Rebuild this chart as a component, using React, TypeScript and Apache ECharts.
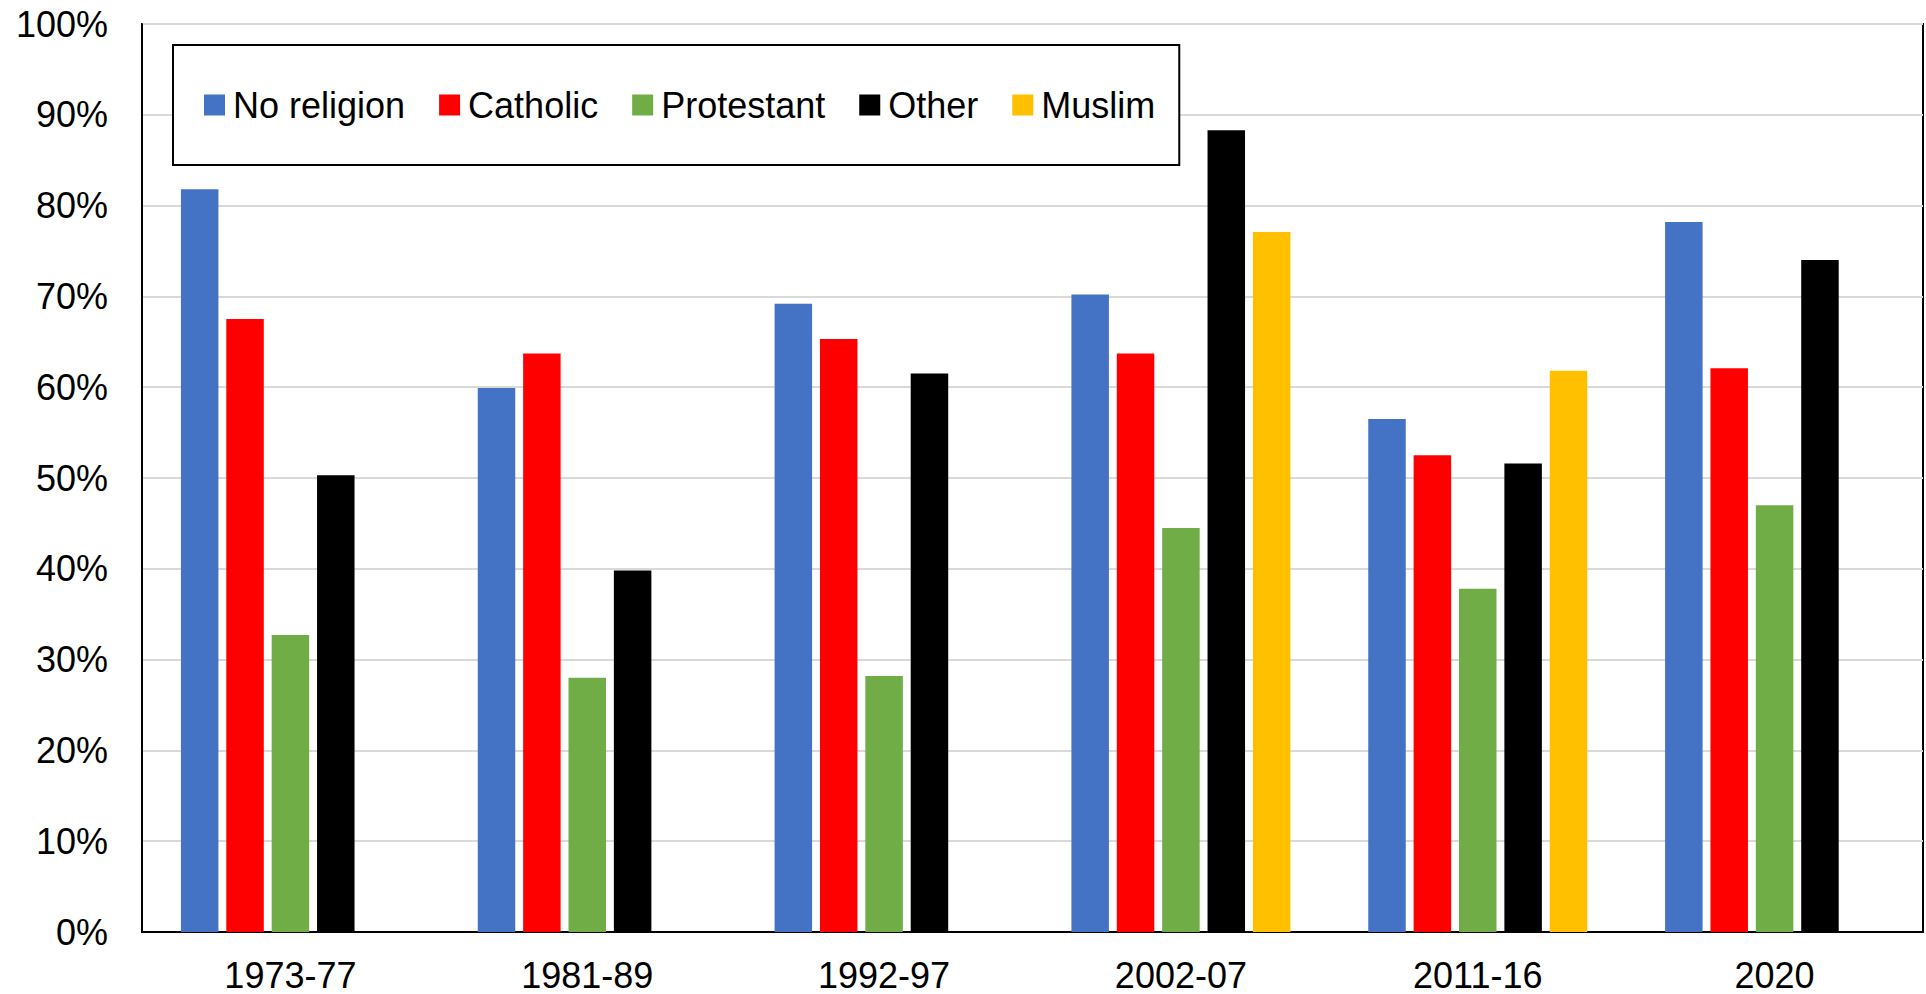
import React, { useEffect, useRef } from "react";
import * as echarts from "echarts";

const categories = ["1973-77", "1981-89", "1992-97", "2002-07", "2011-16", "2020"];
const noReligion = [81.8, 59.9, 69.2, 70.2, 56.5, 78.2];
const catholic = [67.5, 63.7, 65.3, 63.7, 52.5, 62.1];
const protestant = [32.7, 28.0, 28.2, 44.5, 37.8, 47.0];
const other = [50.3, 39.8, 61.5, 88.3, 51.6, 74.0];
const muslim = [null, null, null, 77.1, 61.8, null];

const seriesNames = ["No religion", "Catholic", "Protestant", "Other", "Muslim"];
const seriesColors = ["#4472C4", "#FF0000", "#70AD47", "#000000", "#FFC000"];
const seriesData = [noReligion, catholic, protestant, other, muslim];

const FONT = "Liberation Sans, Arial, sans-serif";

export default function App() {
  const ref = useRef<HTMLDivElement>(null);
  useEffect(() => {
    if (!ref.current) return;
    const chart = echarts.init(ref.current, undefined, { renderer: "svg" });
    chart.setOption({
      animation: false,
      backgroundColor: "#ffffff",
      textStyle: { fontFamily: FONT },
      grid: {
        left: 142,
        top: 24,
        right: 3,
        bottom: 62,
        show: true,
        borderColor: "#000000",
        borderWidth: 2,
        containLabel: false,
      },
      legend: {
        left: 173,
        top: 45,
        padding: [42, 24, 42, 31],
        borderColor: "#000000",
        borderWidth: 2,
        backgroundColor: "#ffffff",
        itemWidth: 21,
        itemHeight: 21,
        itemGap: 34,
        icon: "rect",
        textStyle: { fontSize: 36, color: "#000000", fontFamily: FONT, padding: [0, 0, 0, 3] },
        data: seriesNames,
      },
      xAxis: {
        type: "category",
        data: categories,
        axisLine: { show: true, lineStyle: { color: "#000000", width: 2 } },
        axisTick: { show: false },
        axisLabel: { fontSize: 36, color: "#000000", margin: 25, fontFamily: FONT },
      },
      yAxis: {
        type: "value",
        min: 0,
        max: 100,
        interval: 10,
        axisLine: { show: true, lineStyle: { color: "#000000", width: 2 } },
        axisTick: { show: false },
        axisLabel: { fontSize: 36, color: "#000000", margin: 34, formatter: "{value}%", fontFamily: FONT },
        splitLine: { show: true, lineStyle: { color: "#D9D9D9", width: 2 } },
      },
      series: seriesNames.map((name, i) => ({
        name,
        type: "bar",
        data: seriesData[i],
        barWidth: 37.5,
        barGap: "21%",
        itemStyle: { color: seriesColors[i] },
      })),
    });
    return () => chart.dispose();
  }, []);
  return (
    <div
      ref={ref}
      style={{ position: "fixed", left: 0, top: 0, width: 1926, height: 994, background: "#fff" }}
    />
  );
}
